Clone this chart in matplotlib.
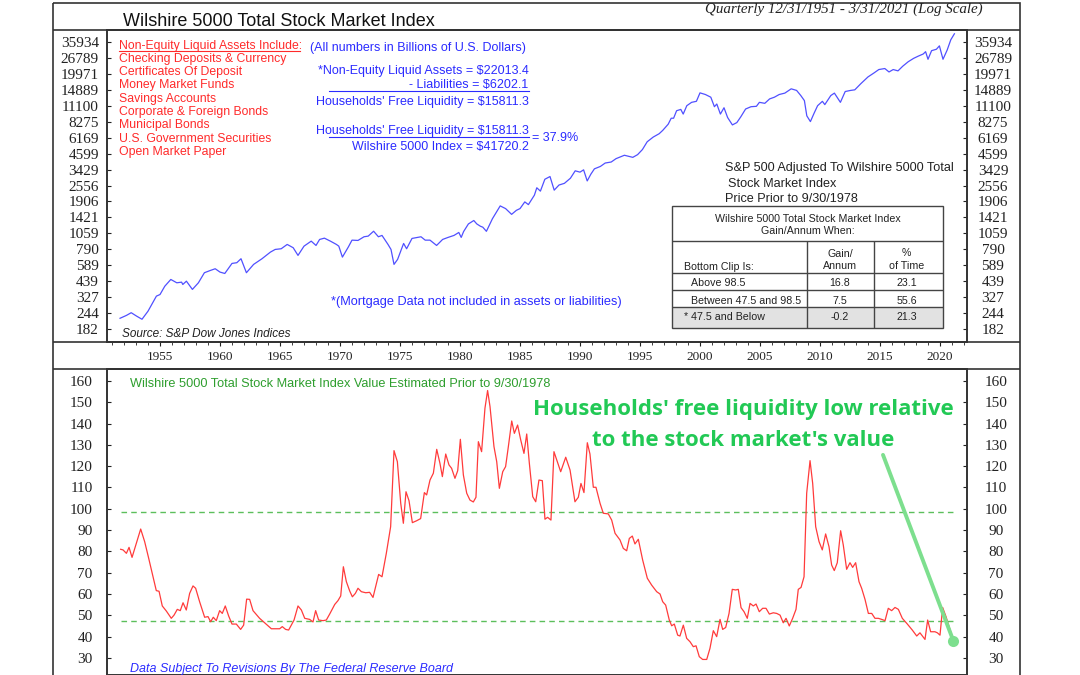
import matplotlib
matplotlib.use('Agg')
import matplotlib.pyplot as plt
from matplotlib.patches import Rectangle
from matplotlib.ticker import FixedLocator, MultipleLocator, NullLocator

# quarterly-ish readings of the Wilshire 5000 line (log panel)
years_top = [1951.67, 1952.2, 1952.6, 1953.05, 1953.5, 1954.0, 1954.7, 1955.0, 1955.4, 1955.9,
             1956.4, 1956.8, 1956.9, 1957.2, 1957.7, 1958.2, 1958.7, 1959.2, 1959.6, 1960.0,
             1960.4, 1961.0, 1961.4, 1961.75, 1962.2, 1962.8, 1963.5, 1964.2, 1964.6, 1965.1,
             1965.6, 1966.1, 1966.5, 1967.0, 1967.6, 1968.0, 1968.3, 1968.7, 1969.2, 1969.7,
             1969.9, 1970.2, 1970.7, 1971.0, 1971.5, 1972.0, 1972.35, 1972.8, 1973.2, 1973.5,
             1974.0, 1974.25, 1974.5, 1974.8, 1975.3, 1975.55, 1976.0, 1976.75, 1977.1, 1977.5,
             1978.05, 1978.55, 1979.0, 1979.5, 1979.9, 1980.1, 1980.3, 1980.7, 1981.15, 1981.4,
             1981.7, 1981.9, 1982.2, 1982.7, 1983.35, 1983.8, 1984.3, 1984.7, 1985.0, 1985.4,
             1985.7, 1986.2, 1986.4, 1986.7, 1987.07, 1987.5, 1987.85, 1988.25, 1988.7, 1989.2,
             1989.6, 1990.0, 1990.3, 1990.6, 1990.9, 1991.2, 1991.7, 1992.1, 1992.6, 1993.0,
             1993.7, 1994.05, 1994.4, 1994.8, 1995.2, 1995.6, 1996.1, 1996.6, 1996.9, 1997.35,
             1997.6, 1997.8, 1998.05, 1998.4, 1998.6, 1998.9, 1999.3, 1999.7, 2000.0, 2000.45,
             2000.9, 2001.2, 2001.4, 2001.7, 2002.0, 2002.3, 2002.7, 2003.07, 2003.4, 2003.8,
             2004.25, 2004.7, 2004.95, 2005.4, 2005.8, 2006.2, 2006.6, 2007.07, 2007.6, 2008.05,
             2008.4, 2008.7, 2008.9, 2009.2, 2009.5, 2009.8, 2010.2, 2010.4, 2010.9, 2011.2,
             2011.7, 2012.1, 2012.55, 2012.9, 2013.4, 2014.0, 2014.5, 2014.9, 2015.4, 2015.75,
             2016.1, 2016.5, 2016.9, 2017.35, 2017.8, 2018.2, 2018.6, 2018.8, 2019.0, 2019.3,
             2019.7, 2019.95, 2020.25, 2020.6, 2020.9, 2021.2]
wilshire = [223, 235, 247, 232, 219, 254, 335, 345, 402, 455,
            428, 433, 415, 441, 379, 428, 515, 537, 554, 521,
            508, 611, 619, 666, 515, 600, 666, 752, 790, 800,
            866, 815, 708, 839, 920, 850, 949, 972, 920, 866,
            839, 686, 828, 937, 932, 997, 1009, 1104, 997, 1022,
            866, 790, 600, 658, 882, 800, 967, 997, 937, 937,
            850, 949, 985, 1022, 1079, 985, 1097, 1262, 1344, 1262,
            1210, 1189, 1102, 1388, 1758, 1673, 1505, 1621, 1673, 1892,
            1800, 2142, 2453, 2306, 2868, 3015, 2348, 2580, 2661, 2922,
            3349, 3269, 3410, 2781, 3144, 3473, 3631, 3865, 3937, 4187,
            4458, 4369, 4290, 4509, 4949, 5712, 6226, 6626, 7051, 7890,
            8805, 8805, 10104, 10352, 9500, 11080, 11788, 12010, 14030, 13609,
            12954, 10878, 11430, 9500, 10674, 8921, 7785, 8125, 9036, 10427,
            10878, 10957, 11788, 11577, 12554, 12954, 13609, 13964, 15108, 14673,
            13353, 12167, 9202, 8275, 9616, 11080, 12010, 11305, 13353, 13964,
            11788, 14380, 14673, 14834, 16601, 18805, 20230, 21530, 21938, 20601,
            21530, 21016, 22916, 24851, 26445, 27580, 28650, 29897, 26005, 30462,
            31263, 33273, 26005, 30860, 37220, 41540]

# free liquidity as % of the index (bottom panel)
years_bot = [1951.72, 1951.92, 1952.2, 1952.42, 1952.67, 1953.03, 1953.39, 1953.72, 1954.06, 1954.42,
             1954.69, 1954.92, 1955.19, 1955.53, 1955.94, 1956.17, 1956.44, 1956.69, 1956.92, 1957.19,
             1957.47, 1957.75, 1957.97, 1958.3, 1958.72, 1959.0, 1959.22, 1959.44, 1959.69, 1959.97,
             1960.19, 1960.44, 1960.72, 1961.0, 1961.36, 1961.72, 1961.97, 1962.22, 1962.47, 1962.75,
             1963.3, 1963.72, 1964.28, 1964.97, 1965.19, 1965.47, 1965.72, 1966.17, 1966.5, 1966.78,
             1967.06, 1967.47, 1967.75, 1967.97, 1968.22, 1968.58, 1968.86, 1969.14, 1969.56, 1969.83,
             1970.06, 1970.28, 1970.53, 1970.81, 1971.03, 1971.28, 1971.5, 1971.78, 1972.14, 1972.47,
             1972.75, 1973.22, 1973.5, 1973.86, 1974.22, 1974.5, 1974.78, 1975.06, 1975.28, 1975.5,
             1975.75, 1976.03, 1976.39, 1976.72, 1977.03, 1977.22, 1977.5, 1977.78, 1978.06, 1978.33,
             1978.53, 1978.81, 1979.08, 1979.3, 1979.58, 1979.81, 1980.03, 1980.28, 1980.56, 1980.83,
             1981.11, 1981.33, 1981.53, 1981.8, 1982.08, 1982.3, 1982.5, 1982.83, 1983.06, 1983.28,
             1983.56, 1983.8, 1984.03, 1984.31, 1984.53, 1984.8, 1985.06, 1985.33, 1985.56, 1985.78,
             1986.06, 1986.31, 1986.58, 1986.86, 1987.08, 1987.3, 1987.58, 1987.83, 1988.06, 1988.39,
             1988.81, 1989.17, 1989.58, 1989.86, 1990.08, 1990.33, 1990.61, 1990.83, 1991.11, 1991.33,
             1991.67, 1991.94, 1992.36, 1992.64, 1992.92, 1993.33, 1993.61, 1993.89, 1994.11, 1994.36,
             1994.58, 1994.86, 1995.22, 1995.61, 1995.97, 1996.39, 1996.67, 1996.89, 1997.14, 1997.44,
             1997.64, 1997.86, 1998.14, 1998.33, 1998.61, 1998.89, 1999.17, 1999.44, 1999.67, 1999.94,
             2000.22, 2000.56, 2000.83, 2001.11, 2001.39, 2001.67, 2001.89, 2002.14, 2002.42, 2002.69,
             2002.97, 2003.19, 2003.42, 2003.67, 2003.94, 2004.17, 2004.44, 2004.67, 2004.94, 2005.22,
             2005.5, 2005.78, 2006.11, 2006.39, 2006.67, 2006.94, 2007.17, 2007.44, 2007.72, 2008.0,
             2008.19, 2008.42, 2008.67, 2008.89, 2009.17, 2009.39, 2009.64, 2009.92, 2010.19, 2010.47,
             2010.75, 2010.97, 2011.19, 2011.44, 2011.72, 2011.94, 2012.22, 2012.5, 2012.72, 2012.97,
             2013.25, 2013.47, 2013.75, 2014.03, 2014.31, 2014.58, 2014.86, 2015.14, 2015.42, 2015.69,
             2015.97, 2016.25, 2016.53, 2016.86, 2017.28, 2017.69, 2018.06, 2018.33, 2018.75, 2018.97,
             2019.22, 2019.58, 2019.78, 2020.0, 2020.22, 2020.5, 2020.83, 2021.11]
liquidity_pct = [81.0, 80.7, 79.1, 81.9, 77.2, 83.8, 90.5, 84.6, 76.7, 68.1,
                 61.6, 61.3, 54.4, 52.0, 48.6, 50.1, 52.8, 52.2, 55.9, 52.5,
                 60.3, 63.8, 62.7, 56.4, 49.1, 49.4, 47.0, 49.1, 47.5, 52.2,
                 50.9, 54.4, 49.7, 45.9, 45.9, 43.4, 45.4, 57.6, 57.5, 52.2,
                 48.6, 46.5, 43.7, 43.7, 44.7, 43.4, 43.1, 47.8, 54.4, 52.5,
                 48.6, 48.1, 46.9, 52.2, 47.8, 47.5, 47.8, 50.6, 55.1, 56.9,
                 59.1, 72.8, 65.8, 61.4, 58.7, 60.3, 62.7, 61.1, 60.6, 60.8,
                 58.4, 69.2, 68.1, 79.1, 91.6, 127.3, 122.1, 102.6, 93.2, 108.0,
                 103.8, 93.5, 94.4, 95.4, 107.6, 106.5, 113.5, 116.7, 127.9, 121.3,
                 115.1, 125.7, 120.6, 119.0, 114.3, 117.9, 132.6, 115.9, 107.3, 104.1,
                 103.2, 105.4, 131.5, 126.8, 147.2, 155.5, 148.0, 129.2, 122.1, 109.6,
                 117.4, 119.8, 129.2, 141.2, 135.4, 139.3, 132.3, 126.0, 135.1, 121.3,
                 105.7, 103.3, 113.5, 113.2, 95.1, 96.0, 94.7, 126.8, 122.9, 117.4,
                 124.2, 118.2, 103.3, 105.4, 111.9, 107.6, 131.0, 125.7, 110.1, 110.1,
                 102.6, 97.9, 97.6, 94.7, 88.5, 85.4, 81.4, 80.3, 86.1, 87.2,
                 83.5, 85.7, 76.0, 67.4, 64.2, 61.1, 60.0, 56.4, 54.8, 47.8,
                 45.1, 45.9, 40.7, 40.3, 45.4, 39.2, 37.6, 35.3, 35.7, 30.6,
                 29.3, 29.3, 34.5, 42.8, 40.0, 48.1, 43.4, 44.3, 50.9, 62.2,
                 61.9, 62.2, 53.6, 51.7, 48.6, 55.6, 54.4, 55.3, 51.7, 53.3,
                 53.3, 50.6, 51.2, 50.9, 50.1, 46.5, 48.6, 45.0, 48.6, 52.8,
                 62.2, 63.1, 68.1, 107.3, 122.6, 111.9, 91.6, 84.6, 80.7, 88.2,
                 82.2, 73.6, 71.0, 74.7, 89.7, 83.0, 71.6, 74.7, 72.5, 74.7,
                 65.8, 62.7, 57.5, 50.9, 50.9, 48.6, 48.6, 48.1, 47.5, 53.3,
                 52.2, 53.7, 52.8, 48.6, 45.9, 43.1, 40.3, 41.8, 38.7, 47.8,
                 42.3, 42.3, 41.8, 40.7, 53.7, 49.4, 43.4, 38.1]

top_ticks = [182, 244, 327, 439, 589, 790, 1059, 1421, 1906, 2556, 3429,
             4599, 6169, 8275, 11100, 14889, 19971, 26789, 35934]
bot_ticks = list(range(30, 161, 10))
upper_clip = 98.5
lower_clip = 47.5

assets_list = ['Non-Equity Liquid Assets Include:', 'Checking Deposits & Currency',
               'Certificates Of Deposit', 'Money Market Funds', 'Savings Accounts',
               'Corporate & Foreign Bonds', 'Municipal Bonds',
               'U.S. Government Securities', 'Open Market Paper']
liquid_assets = 22013.4
liabilities = 6202.1
free_liquidity = 15811.3
index_value = 41720.2
ratio = 37.9

clip_rows = ['Above 98.5', 'Between 47.5 and 98.5', '* 47.5 and Below']
clip_gain = ['16.8', '7.5', '-0.2']
clip_time = ['23.1', '55.6', '21.3']

SERIF = 'Liberation Serif'
SANS = 'Liberation Sans'
BLUE_LINE = '#5050ff'
BLUE_TXT = '#2b2bff'
RED = '#ff2a2a'
EDGE = '#333333'

W, H = 1080, 675
fig = plt.figure(figsize=(W / 100, H / 100), dpi=100)


def box(x0, y0, x1, y1):
    # pixel box (top-left origin) -> figure fraction rect
    return [x0 / W, 1 - y1 / H, (x1 - x0) / W, (y1 - y0) / H]


XMIN, XMAX = 1950.583, 2022.25

# ---- top panel: index on log scale
ax1 = fig.add_axes(box(107, 30, 967, 342))
ax1.plot(years_top, wilshire, color=BLUE_LINE, lw=0.9)
ax1.set_yscale('log')
ax1.set_xlim(XMIN, XMAX)
ax1.set_ylim(144.2, 44530)
ax1.yaxis.set_major_locator(FixedLocator(top_ticks))
ax1.yaxis.set_minor_locator(NullLocator())
ax1.set_yticklabels([str(t) for t in top_ticks])
ax1.xaxis.set_major_locator(MultipleLocator(5))
ax1.xaxis.set_minor_locator(MultipleLocator(1))
ax1.tick_params(axis='y', which='major', direction='in', length=3, pad=5.8,
                labelsize=11, labelfontfamily=SERIF, colors='#222222', right=False)
ax1.tick_params(axis='x', which='major', direction='out', length=3, pad=3.5,
                labelsize=9.5, labelfontfamily=SERIF, colors='#222222')
ax1.tick_params(axis='x', which='minor', direction='out', length=2.2, colors='#222222')

ax1r = ax1.twinx()
ax1r.set_yscale('log')
ax1r.set_ylim(ax1.get_ylim())
ax1r.yaxis.set_major_locator(FixedLocator(top_ticks))
ax1r.yaxis.set_minor_locator(NullLocator())
ax1r.set_yticklabels([str(t) for t in top_ticks])
ax1r.tick_params(axis='y', direction='in', length=3, pad=18.7, labelsize=11,
                 labelfontfamily=SERIF, colors='#222222')
for lb in ax1r.get_yticklabels():
    lb.set_horizontalalignment('center')

# ---- bottom panel: free liquidity / index
ax2 = fig.add_axes(box(107, 369, 967, 675))
ax2.hlines([upper_clip, lower_clip], years_bot[0], years_bot[-1], colors='#5cbf5c',
           linestyles=(0, (4, 3)), lw=1)
ax2.plot(years_bot, liquidity_pct, color='#ff3b3b', lw=0.9)
ax2.set_xlim(XMIN, XMAX)
ax2.set_ylim(22.0, 165.6)
ax2.set_yticks(bot_ticks)
ax2.tick_params(axis='y', direction='in', length=3, pad=10.4, labelsize=11,
                labelfontfamily=SERIF, colors='#222222')
ax2.tick_params(axis='x', bottom=False, labelbottom=False)

ax2r = ax2.twinx()
ax2r.set_ylim(ax2.get_ylim())
ax2r.set_yticks(bot_ticks)
ax2r.tick_params(axis='y', direction='in', length=3, pad=20.9, labelsize=11,
                 labelfontfamily=SERIF, colors='#222222')
for lb in ax2r.get_yticklabels():
    lb.set_horizontalalignment('center')

for a in (ax1, ax1r, ax2, ax2r):
    for s in a.spines.values():
        s.set_color(EDGE)
        s.set_linewidth(1.2)

# green callout pointing at the latest reading
green = '#7ddf8e'
ax2.annotate('', xy=(years_bot[-1], liquidity_pct[-1]), xytext=(2015.25, 125.3),
             arrowprops=dict(arrowstyle='-', color=green, lw=2.8, shrinkA=0, shrinkB=0))
ax2.plot(years_bot[-1], liquidity_pct[-1], 'o', ms=8, color=green, mec='none')

# ---- overlay in pixel units for frame, texts and table
ov = fig.add_axes([0, 0, 1, 1])
ov.set_xlim(0, W)
ov.set_ylim(H, 0)
ov.axis('off')
ov.patch.set_alpha(0)
ov.set_zorder(5)

ov.add_patch(Rectangle((53, 3), 967, 700, fill=False, ec=EDGE, lw=1.2, clip_on=False))
ov.hlines([30, 342, 369], 53, 1020, colors=EDGE, lw=1.2)

ov.text(123, 26, 'Wilshire 5000 Total Stock Market Index', family=SANS, fontsize=13,
        color='#111111', va='baseline')
ov.text(705, 13, 'Quarterly 12/31/1951 - 3/31/2021 (Log Scale)', family=SERIF,
        style='italic', fontsize=10.8, color='#222222', va='baseline')

for i, item in enumerate(assets_list):
    ov.text(119, 48.5 + 13.33 * i, item, family=SANS, fontsize=8.8, color=RED, va='baseline')
ov.plot([119, 300], [51, 51], color=RED, lw=0.8)

bk = dict(family=SANS, fontsize=9, color=BLUE_TXT, va='baseline')
ov.text(310, 51.5, '(All numbers in Billions of U.S. Dollars)', **bk)
ov.text(528.5, 73.8, r'*Non-Equity Liquid Assets = \$%.1f' % liquid_assets, ha='right', **bk)
ov.text(528.5, 87.8, r'- Liabilities = \$%.1f' % liabilities, ha='right', **bk)
ov.plot([329, 528.5], [90.5, 90.5], color=BLUE_TXT, lw=0.8)
ov.text(528.5, 104.5, r"Households' Free Liquidity = \$%.1f" % free_liquidity, ha='right', **bk)
ov.text(528.5, 134, r"Households' Free Liquidity = \$%.1f" % free_liquidity, ha='right', **bk)
ov.plot([329, 528.5], [136.5, 136.5], color=BLUE_TXT, lw=0.8)
ov.text(528.5, 150, r'Wilshire 5000 Index = \$%.1f' % index_value, ha='right', **bk)
ov.text(532, 141, '= %.1f%%' % ratio, **bk)
ov.text(331, 304.5, '*(Mortgage Data not included in assets or liabilities)',
        family=SANS, fontsize=9.2, color=BLUE_TXT, va='baseline')
ov.text(122, 337, 'Source: S&P Dow Jones Indices', family=SANS, style='italic',
        fontsize=8.5, color='#222222', va='baseline')

dk = dict(family=SANS, fontsize=9.1, color='#222222', va='baseline')
ov.text(725, 170.5, 'S&P 500 Adjusted To Wilshire 5000 Total', **dk)
ov.text(728.3, 187, 'Stock Market Index', **dk)
ov.text(725, 202, 'Price Prior to 9/30/1978', **dk)

# table
tx0, tx1, ty0, ty1 = 672.3, 943.3, 206, 328.3
c1, c2 = 806.7, 873.7
r_lines = [241, 272.7, 289.7, 307.3]
ov.add_patch(Rectangle((tx0, r_lines[3]), tx1 - tx0, ty1 - r_lines[3], fc='#e2e2e2', ec='none'))
ov.add_patch(Rectangle((tx0, ty0), tx1 - tx0, ty1 - ty0, fill=False, ec='#444444', lw=1))
ov.hlines(r_lines, tx0, tx1, colors='#444444', lw=1)
ov.vlines([c1, c2], r_lines[0], ty1, colors='#444444', lw=1)
tk = dict(family=SANS, fontsize=7.7, color='#222222', va='baseline')
ov.text((tx0 + tx1) / 2, 222, 'Wilshire 5000 Total Stock Market Index', ha='center', **tk)
ov.text((tx0 + tx1) / 2, 234, 'Gain/Annum When:', ha='center', **tk)
ov.text(684.3, 270, 'Bottom Clip Is:', **tk)
ov.text(840, 257, 'Gain/', ha='center', **tk)
ov.text(840, 269, 'Annum', ha='center', **tk)
ov.text(906.7, 255.5, '%', ha='center', **tk)
ov.text(906.7, 269, 'of Time', ha='center', **tk)
row_base = [286.5, 304, 320.5]
row_x = [691, 691, 684.3]
for lbl, g, t, yb, xl in zip(clip_rows, clip_gain, clip_time, row_base, row_x):
    ov.text(xl, yb, lbl, **tk)
    ov.text(840, yb, g, ha='center', **tk)
    ov.text(906.7, yb, t, ha='center', **tk)

# bottom panel texts
ov.text(130, 387, 'Wilshire 5000 Total Stock Market Index Value Estimated Prior to 9/30/1978',
        family=SANS, fontsize=9.2, color='#2e9e2e', va='baseline')
ov.text(130, 672, 'Data Subject To Revisions By The Federal Reserve Board', family=SANS,
        style='italic', fontsize=9, color=BLUE_TXT, va='baseline')
gk = dict(family='Open Sans', weight='bold', fontsize=16, color='#22c955',
          ha='center', va='baseline')
ov.text(743, 415, "Households' free liquidity low relative", **gk)
ov.text(743, 446, "to the stock market's value", **gk)

fig.savefig('out.png', dpi=100)
